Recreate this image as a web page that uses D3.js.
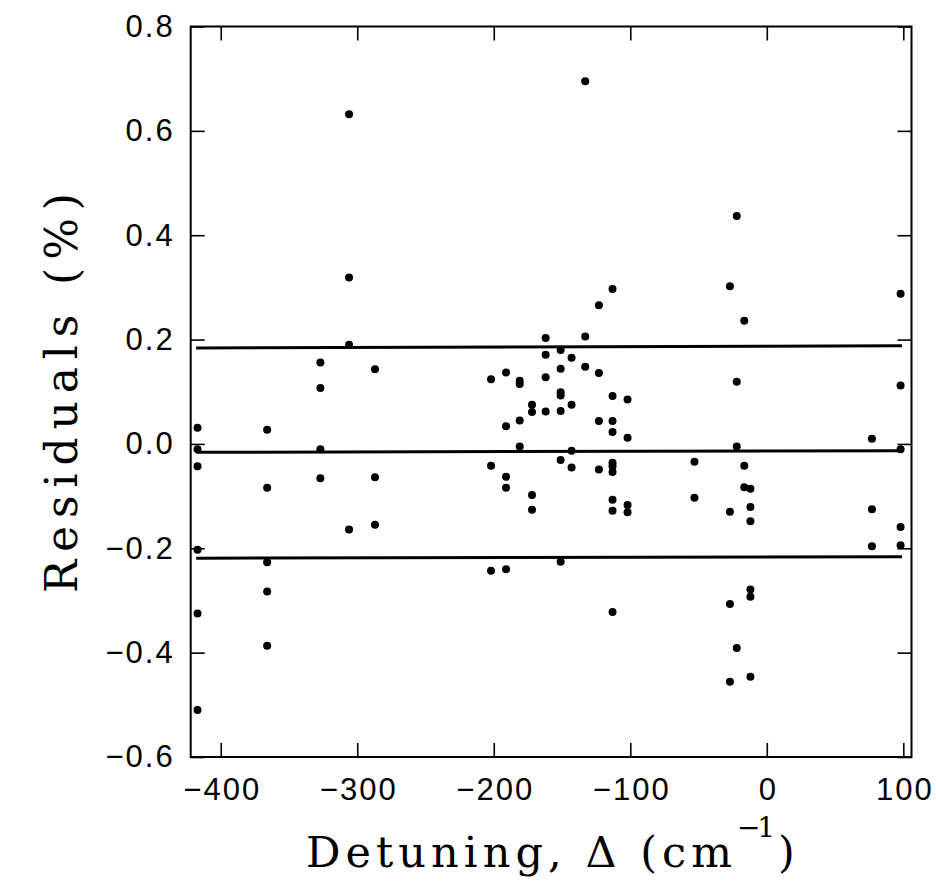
<!DOCTYPE html>
<html lang="en">
<head>
<meta charset="UTF-8">
<title>Residuals vs Detuning</title>
<style>
    body, html { margin: 0; padding: 0; background: #fff; }
    svg { display: block; }
</style>
</head>
<body>
<svg id="svg" width="936" height="893"></svg>
<script src="https://d3js.org/d3.v7.min.js"></script>
<script>
// detuning columns (cm^-1) and the residuals (%) measured at each
const detuning = [-417, -366, -327, -306, -287, -202, -191, -181, -172, -162, -151, -143,
    -133, -123, -113, -102, -53, -27, -22, -16.5, -12, 77, 98]
const residuals = [
    [0.031, -0.010, -0.043, -0.203, -0.325, -0.51],
    [0.027, -0.084, -0.227, -0.283, -0.387],
    [0.156, 0.107, -0.010, -0.066],
    [0.632, 0.319, 0.190, -0.164],
    [0.143, -0.064, -0.155],
    [0.124, -0.042, -0.243],
    [0.137, 0.034, -0.063, -0.084, -0.240],
    [0.121, 0.115, 0.045, -0.005],
    [0.075, 0.061, -0.098, -0.126],
    [0.203, 0.171, 0.128, 0.062],
    [0.180, 0.144, 0.099, 0.093, 0.063, -0.031, -0.226],
    [0.165, 0.075, -0.013, -0.045],
    [0.695, 0.206, 0.148],
    [0.266, 0.136, 0.044, -0.049],
    [0.297, 0.092, 0.044, 0.023, -0.036, -0.043, -0.054, -0.107, -0.128, -0.322],
    [0.085, 0.012, -0.117, -0.131],
    [-0.034, -0.103],
    [0.302, -0.130, -0.307, -0.456],
    [0.437, 0.119, -0.005, -0.391],
    [0.236, -0.042, -0.083],
    [-0.086, -0.121, -0.148, -0.279, -0.293, -0.446],
    [0.010, -0.125, -0.196],
    [0.288, 0.112, -0.010, -0.159, -0.194]
]
// mean and +/- sigma lines: [left value, right value]
const lineSpan = [-418, 99]
const lineLevels = [[0.184, 0.188], [-0.016, -0.013], [-0.219, -0.216]]

const xTicks = [-400, -300, -200, -100, 0, 100]
const yTicks = [-0.6, -0.4, -0.2, 0.0, 0.2, 0.4, 0.6, 0.8]

const points = []
detuning.forEach((d, i) => residuals[i].forEach(r => points.push({ x: d, y: r })))

const plot = { left: 190.7, right: 911.5, top: 26.5, bottom: 757 }

const xscale = d3.scaleLinear().domain([-422, 106]).range([plot.left, plot.right])
const yscale = d3.scaleLinear().domain([-0.6, 0.8]).range([plot.bottom, plot.top])

const svg = d3.select('#svg')
const fmtY = d => d3.format('.1f')(d).replace('-', '\u2212')
const fmtX = d => String(d).replace('-', '\u2212')

const tickFont = g => g.selectAll('text')
    .attr('font-family', '"Liberation Sans", Arial, sans-serif')
    .attr('font-size', 31)
    .attr('letter-spacing', 2)
    .attr('fill', '#000')

const styleAxis = g => {
    g.select('.domain').remove()
    g.selectAll('line').attr('stroke', '#000').attr('stroke-width', 1.6)
}

// bottom axis, ticks pointing in
svg.append('g')
    .attr('transform', `translate(0, ${plot.bottom})`)
    .call(d3.axisBottom(xscale).tickValues(xTicks).tickSize(-14).tickPadding(21).tickFormat(fmtX))
    .call(styleAxis)
    .call(tickFont)
    .selectAll('text').attr('dx', 1)

svg.append('g')
    .attr('transform', `translate(0, ${plot.top})`)
    .call(d3.axisTop(xscale).tickValues(xTicks).tickSize(-14).tickFormat(''))
    .call(styleAxis)

svg.append('g')
    .attr('transform', `translate(${plot.left}, 0)`)
    .call(d3.axisLeft(yscale).tickValues(yTicks).tickSize(-14).tickPadding(16).tickFormat(fmtY))
    .call(styleAxis)
    .call(tickFont)

svg.append('g')
    .attr('transform', `translate(${plot.right}, 0)`)
    .call(d3.axisRight(yscale).tickValues(yTicks).tickSize(-14).tickFormat(''))
    .call(styleAxis)

// frame
svg.append('rect')
    .attr('x', plot.left).attr('y', plot.top)
    .attr('width', plot.right - plot.left).attr('height', plot.bottom - plot.top)
    .attr('fill', 'none').attr('stroke', '#000').attr('stroke-width', 2)

// horizontal lines
svg.append('g')
    .selectAll('line')
    .data(lineLevels)
    .enter()
    .append('line')
    .attr('x1', xscale(lineSpan[0]))
    .attr('x2', xscale(lineSpan[1]))
    .attr('y1', d => yscale(d[0]))
    .attr('y2', d => yscale(d[1]))
    .attr('stroke', '#000')
    .attr('stroke-width', 3)

// data points
svg.append('g')
    .selectAll('circle')
    .data(points)
    .enter()
    .append('circle')
    .attr('cx', d => xscale(d.x))
    .attr('cy', d => yscale(d.y))
    .attr('r', 4)
    .attr('fill', '#000')

// axis titles
const titleFont = '"DejaVu Serif", "Liberation Serif", serif'

svg.append('text')
    .attr('x', 306)
    .attr('y', 867)
    .attr('font-family', titleFont)
    .attr('font-size', 43)
    .attr('textLength', 426)
    .attr('lengthAdjust', 'spacing')
    .text('Detuning, \u0394 (cm')

svg.append('text')
    .attr('x', 737)
    .attr('y', 837)
    .attr('font-family', titleFont)
    .attr('font-size', 28)
    .attr('textLength', 38)
    .attr('lengthAdjust', 'spacing')
    .text('\u22121')

svg.append('text')
    .attr('x', 778)
    .attr('y', 867)
    .attr('font-family', titleFont)
    .attr('font-size', 43)
    .text(')')

svg.append('text')
    .attr('transform', 'rotate(-90)')
    .attr('x', -593)
    .attr('y', 77)
    .attr('font-family', titleFont)
    .attr('font-size', 44)
    .attr('textLength', 400)
    .attr('lengthAdjust', 'spacing')
    .text('Residuals (%)')
</script>
</body>
</html>
